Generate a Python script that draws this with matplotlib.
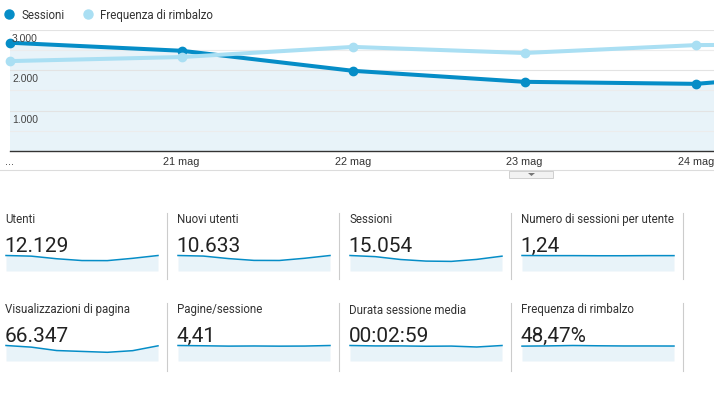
import matplotlib
matplotlib.use('Agg')
import matplotlib.pyplot as plt
from matplotlib.lines import Line2D
from matplotlib.patches import Rectangle, Polygon

W, H = 714, 402

# --- data ---
giorni = ['...', '21 mag', '22 mag', '23 mag', '24 mag', '25 mag', '26 mag']
sessioni = [2673, 2475, 1980, 1708, 1658, 2000, 2560]
rimbalzo = [44.4, 46.4, 51.4, 48.4, 52.3, 52.8, 47]

y_ticks = [1000, 2000, 3000]
y_labels = ['1.000', '2.000', '3.000']

metriche = ['Utenti', 'Nuovi utenti', 'Sessioni', 'Numero di sessioni per utente',
            'Visualizzazioni di pagina', 'Pagine/sessione', 'Durata sessione media',
            'Frequenza di rimbalzo']
valori = ['12.129', '10.633', '15.054', '1,24', '66.347', '4,41', '00:02:59', '48,47%']

spark_utenti = [2150, 2060, 1700, 1450, 1440, 1760, 2150]
spark_nuovi = [1900, 1830, 1520, 1300, 1290, 1560, 1900]
spark_sess_utente = [1.25, 1.24, 1.24, 1.23, 1.23, 1.24, 1.24]
spark_visual = [12300, 11000, 8300, 7600, 6900, 8200, 12047]
spark_pagine = [4.5, 4.42, 4.32, 4.36, 4.31, 4.34, 4.5]
spark_durata = [186, 181, 181, 177, 179, 168, 186]
spark_rimbalzo = [47.5, 48.2, 49.5, 48.6, 48.0, 48.0, 47.8]
spark_dati = [spark_utenti, spark_nuovi, sessioni, spark_sess_utente,
              spark_visual, spark_pagine, spark_durata, spark_rimbalzo]

# --- style ---
BLU = '#058dc7'
AZZURRO = '#aadff3'
FILL = '#e8f3f9'
plt.rcParams['font.family'] = ['Roboto', 'DejaVu Sans']


def px(x0, y0, x1, y1):
    # pixel box (top-left origin) -> figure rect
    return [x0 / W, 1 - y1 / H, (x1 - x0) / W, (y1 - y0) / H]


fig = plt.figure(figsize=(W / 100, H / 100), dpi=100)
fig.patch.set_facecolor('white')

# --- main chart ---
ax = fig.add_axes(px(10, 30.5, 714, 152))
ax.set_facecolor('none')
x = list(range(len(giorni)))
ax.fill_between(x, sessioni, color=FILL, lw=0, zorder=0.5)
for v in range(500, 3001, 500):
    ax.axhline(v, color='#e3e3e3' if v % 1000 == 0 else '#ececec', lw=0.8, zorder=1)
ax.plot(x, sessioni, color=BLU, lw=2.9, marker='o', ms=6, zorder=3, clip_on=False)
for s in ['top', 'left', 'right']:
    ax.spines[s].set_visible(False)
ax.spines['bottom'].set_color('#333333')
ax.spines['bottom'].set_linewidth(1)
ax.set_yticks([])
ax.set_xticks(x)
ax.set_xticklabels(giorni, family=['Liberation Sans', 'DejaVu Sans'], fontsize=7.8, color='#333333')
ax.tick_params(axis='x', length=0, pad=3.5)
# visible window: only the first five days fit in the screenshot
ax.set_xlim(0, 704 / 171.5)
ax.set_ylim(0, 3000)
for v, lab in zip(y_ticks, y_labels):
    ax.annotate(lab, (0, v), xycoords=('axes fraction', 'data'), xytext=(1.5, -2.2),
                textcoords='offset points', ha='left', va='top', fontsize=7.5,
                color='#444444', family=['Liberation Sans', 'DejaVu Sans'], zorder=4)

ax2 = ax.twinx()
ax2.set_ylim(0, 60)
ax2.plot(x, rimbalzo, color=AZZURRO, lw=2.9, marker='o', ms=6, zorder=3, clip_on=False)
ax2.set_yticks([])
ax2.set_xlim(0, 704 / 171.5)
for s in ax2.spines.values():
    s.set_visible(False)

# --- legend ---
fig.add_artist(Line2D([9 / W], [1 - 15 / H], transform=fig.transFigure, marker='o',
                      ms=6.5, color=BLU, lw=0))
fig.text(21 / W, 1 - 15.5 / H, 'Sessioni', fontsize=8.3, color='#333333', va='center')
fig.add_artist(Line2D([88 / W], [1 - 15 / H], transform=fig.transFigure, marker='o',
                      ms=6.5, color=AZZURRO, lw=0))
fig.text(100 / W, 1 - 15.5 / H, 'Frequenza di rimbalzo', fontsize=8.3, color='#333333', va='center')

# --- divider and toggle button ---
fig.add_artist(Line2D([0, 1], [1 - 171 / H, 1 - 171 / H], transform=fig.transFigure,
                      color='#dcdcdc', lw=0.8))
bx0, by0, bx1, by1 = 509, 171.5, 553, 178.5
fig.add_artist(Rectangle((bx0 / W, 1 - by1 / H), (bx1 - bx0) / W, (by1 - by0) / H,
                         transform=fig.transFigure, facecolor='#f2f2f2',
                         edgecolor='#cfcfcf', lw=0.7))
fig.add_artist(Polygon([(528 / W, 1 - 174 / H), (535 / W, 1 - 174 / H), (531.5 / W, 1 - 177 / H)],
                       closed=True, transform=fig.transFigure, color='#777777', lw=0))

# --- scorecards ---
righe = [dict(title=220, value=252, top=256.5, bottom=272, sep=(214, 280)),
         dict(title=310, value=342, top=346.5, bottom=362, sep=(304, 372))]
for i, (nome, val, serie) in enumerate(zip(metriche, valori, spark_dati)):
    r = righe[i // 4]
    left = 5 + 172 * (i % 4)
    fig.text(left / W, 1 - r['title'] / H, nome, fontsize=8.3, color='#333333', va='center')
    fig.text((left - 0.5) / W, 1 - r['value'] / H, val, fontsize=15, color='#222222',
             va='baseline')
    sa = fig.add_axes(px(left + 1, r['top'], left + 153, r['bottom']))
    sa.set_xlim(0, len(serie) - 1)
    sa.set_ylim(0, max(serie))
    sa.fill_between(range(len(serie)), serie, color=FILL, lw=0)
    sa.plot(range(len(serie)), serie, color=BLU, lw=1.1, clip_on=False)
    sa.axis('off')
    sx = (left + 162) / W
    fig.add_artist(Line2D([sx, sx], [1 - r['sep'][0] / H, 1 - r['sep'][1] / H],
                          transform=fig.transFigure, color='#cccccc', lw=0.8))

fig.savefig('out.png', dpi=100)
